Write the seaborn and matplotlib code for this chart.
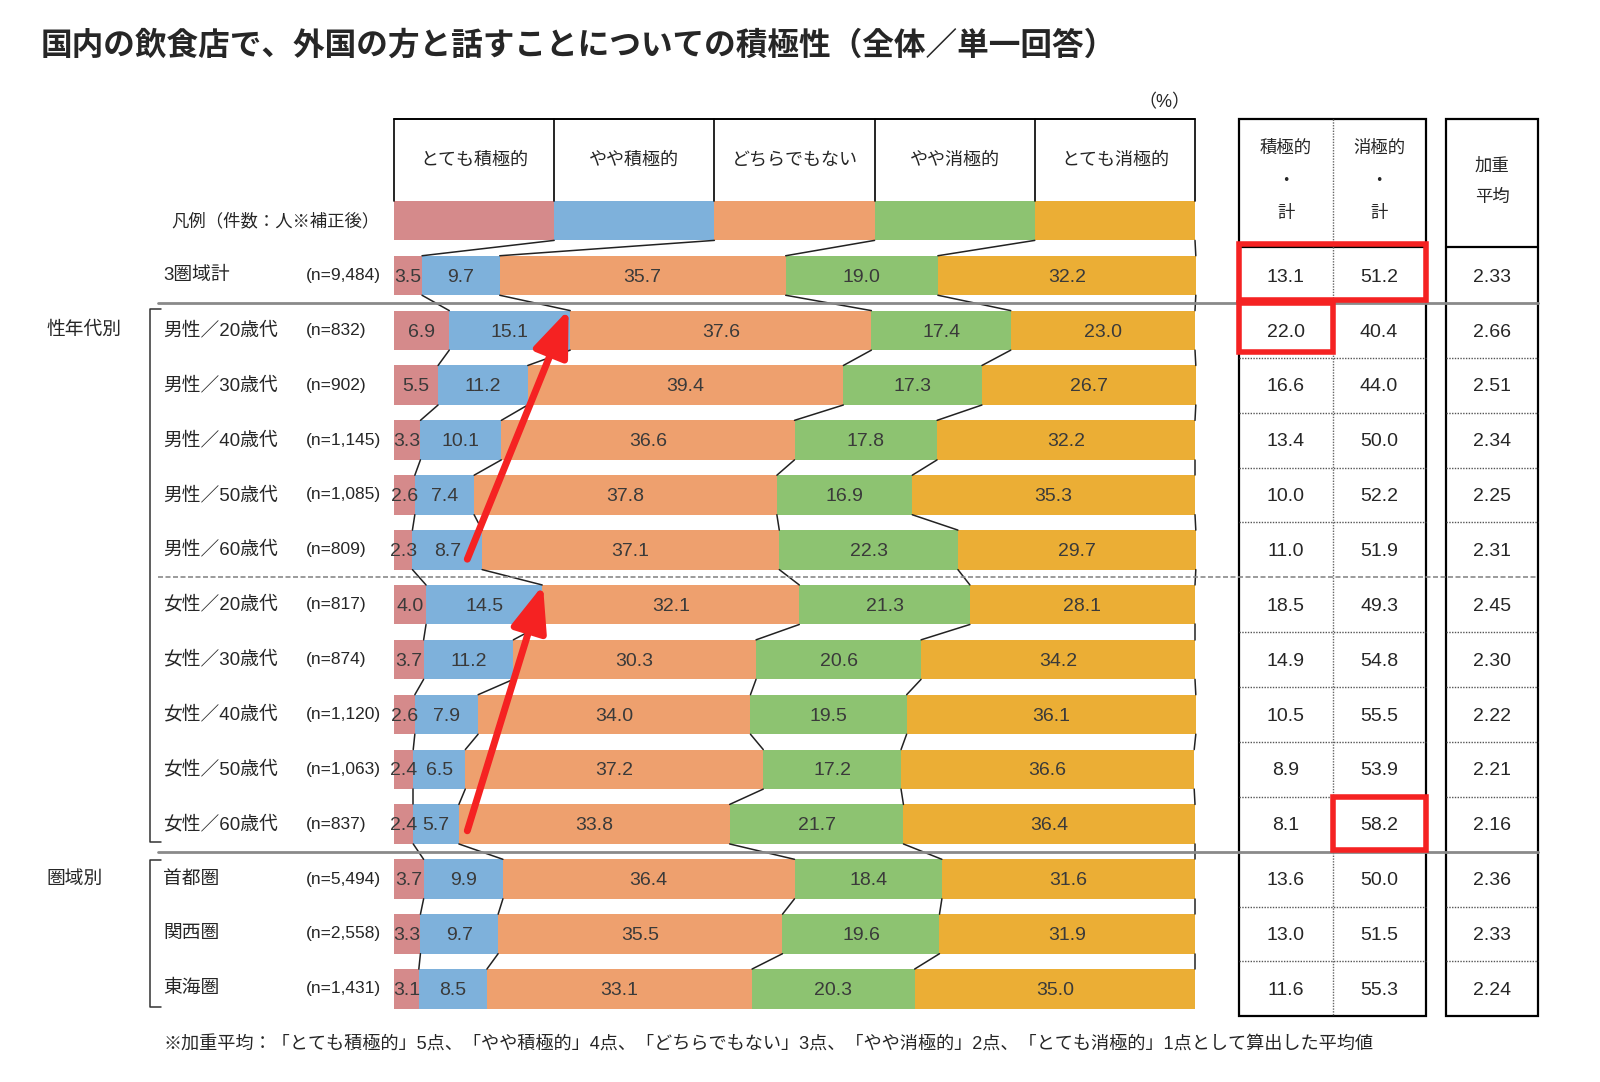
import matplotlib
matplotlib.use('Agg')
import matplotlib.pyplot as plt
import pandas as pd
import seaborn as sns
from matplotlib.patches import Rectangle

# ---- data ----
title = '国内の飲食店で、外国の方と話すことについての積極性（全体／単一回答）'
rows = ['3圏域計', '男性／20歳代', '男性／30歳代', '男性／40歳代', '男性／50歳代', '男性／60歳代',
        '女性／20歳代', '女性／30歳代', '女性／40歳代', '女性／50歳代', '女性／60歳代',
        '首都圏', '関西圏', '東海圏']
ns = ['(n=9,484)', '(n=832)', '(n=902)', '(n=1,145)', '(n=1,085)', '(n=809)',
      '(n=817)', '(n=874)', '(n=1,120)', '(n=1,063)', '(n=837)',
      '(n=5,494)', '(n=2,558)', '(n=1,431)']
cats = ['とても積極的', 'やや積極的', 'どちらでもない', 'やや消極的', 'とても消極的']
very_pos = [3.5, 6.9, 5.5, 3.3, 2.6, 2.3, 4.0, 3.7, 2.6, 2.4, 2.4, 3.7, 3.3, 3.1]
some_pos = [9.7, 15.1, 11.2, 10.1, 7.4, 8.7, 14.5, 11.2, 7.9, 6.5, 5.7, 9.9, 9.7, 8.5]
neutral = [35.7, 37.6, 39.4, 36.6, 37.8, 37.1, 32.1, 30.3, 34.0, 37.2, 33.8, 36.4, 35.5, 33.1]
some_neg = [19.0, 17.4, 17.3, 17.8, 16.9, 22.3, 21.3, 20.6, 19.5, 17.2, 21.7, 18.4, 19.6, 20.3]
very_neg = [32.2, 23.0, 26.7, 32.2, 35.3, 29.7, 28.1, 34.2, 36.1, 36.6, 36.4, 31.6, 31.9, 35.0]
pos_total = [13.1, 22.0, 16.6, 13.4, 10.0, 11.0, 18.5, 14.9, 10.5, 8.9, 8.1, 13.6, 13.0, 11.6]
neg_total = [51.2, 40.4, 44.0, 50.0, 52.2, 51.9, 49.3, 54.8, 55.5, 53.9, 58.2, 50.0, 51.5, 55.3]
weighted_avg = [2.33, 2.66, 2.51, 2.34, 2.25, 2.31, 2.45, 2.30, 2.22, 2.21, 2.16, 2.36, 2.33, 2.24]
legend_label = '凡例（件数：人※補正後）'
note = ('※加重平均：「とても積極的」5点、「やや積極的」4点、「どちらでもない」3点、'
        '「やや消極的」2点、「とても消極的」1点として算出した平均値')

colors = ['#D58A8B', '#7EB1DB', '#EEA06E', '#8DC371', '#EBAE35']

sns.set_theme(style='white')
plt.rcParams['font.family'] = ['Liberation Sans', 'Noto Sans CJK JP', 'DejaVu Sans']

# pixel -> data helpers (one axes covers the whole figure)
X0, XS = 394, 8.01      # 0% at x=394px, 8.01px per %
Y0, YS = 275.5, 54.87   # row 0 centre, row pitch


def px(v):
    return (v - X0) / XS


def py(v):
    return (v - Y0) / YS


fig = plt.figure(figsize=(16, 10.82), dpi=100)
ax = fig.add_axes([0, 0, 1, 1])

df = pd.DataFrame({'row': rows, cats[0]: very_pos, cats[1]: some_pos, cats[2]: neutral,
                   cats[3]: some_neg, cats[4]: very_neg})
cum = df[cats].cumsum(axis=1)
cum['row'] = rows

BH = 0.72
for k in reversed(range(5)):
    sns.barplot(data=cum, x=cats[k], y='row', orient='h', color=colors[k], saturation=1,
                width=BH, errorbar=None, ax=ax, linewidth=0)

# legend swatches
for k in range(5):
    ax.barh(-1, 20, left=20 * k, height=BH, color=colors[k], linewidth=0)

# value labels inside bars
for i in range(len(rows)):
    left = 0
    for k in range(5):
        v = df[cats[k]][i]
        ax.text(left + v / 2, i + 0.03, f'{v:.1f}', ha='center', va='center',
                fontsize=14, color='#3a3a3a')
        left += v

# connector lines between bars
top_b = [20, 40, 60, 80, 100]
for i in range(-1, len(rows) - 1):
    up = top_b if i < 0 else list(cum[cats].iloc[i])
    low = list(cum[cats].iloc[i + 1])
    for a, b in zip(up, low):
        ax.plot([a, b], [i + BH / 2, i + 1 - BH / 2], color='#222222', lw=1.1)

# header boxes
H_TOP, H_BOT = py(119.4), -1 - BH / 2
ax.plot([0, 100], [H_TOP, H_TOP], color='black', lw=1.4)
for k in range(6):
    ax.plot([20 * k, 20 * k], [H_TOP, H_BOT], color='black', lw=1.2)
for k in range(5):
    ax.text(20 * k + 10, (H_TOP + H_BOT) / 2, cats[k], ha='center', va='center', fontsize=13)
ax.text(px(380), -1, legend_label, ha='right', va='center', fontsize=12.5)
ax.text(px(1164), py(103), '（%）', ha='center', va='center', fontsize=13)

# row labels
for i in range(len(rows)):
    ax.text(px(163), i, rows[i], ha='left', va='center', fontsize=13.5)
    ax.text(px(306), i, ns[i], ha='left', va='center', fontsize=12.5)
ax.text(px(46), 1, '性年代別', ha='left', va='center', fontsize=13.5)
ax.text(px(46), 11, '圏域別', ha='left', va='center', fontsize=13.5)
for y1, y2 in [(309, 842), (860, 1007)]:
    ax.plot([px(161), px(150), px(150), px(161)], [py(y1), py(y1), py(y2), py(y2)],
            color='#333333', lw=1.1)

# tables
T_TOP, T_HEAD, T_BOT = H_TOP, py(247), len(rows) - 0.5
t1, tm, t1r = px(1239), px(1332.6), px(1425.6)
t2, t2r = px(1446), px(1538)
for a, b in [(t1, t1r), (t2, t2r)]:
    ax.add_patch(Rectangle((a, T_TOP), b - a, T_BOT - T_TOP, fill=False, ec='black', lw=1.6))
    ax.plot([a, b], [T_HEAD, T_HEAD], color='black', lw=1.6)
    for i in range(1, len(rows) - 1):
        if i in (5, 10):
            continue
        ax.plot([a, b], [i + 0.5, i + 0.5], color='#555555', lw=1, ls=(0, (1, 1)))
ax.plot([tm, tm], [T_TOP, T_BOT], color='#666666', lw=1, ls=(0, (1, 1)))

c1, c2, c3 = (t1 + tm) / 2, (tm + t1r) / 2, (t2 + t2r) / 2
for c, word in [(c1, '積極的'), (c2, '消極的')]:
    ax.text(c, py(148), word, ha='center', va='center', fontsize=12.5)
    ax.text(c, py(181.6), '・', ha='center', va='center', fontsize=12.5)
    ax.text(c, py(213.3), '計', ha='center', va='center', fontsize=12.5)
ax.text(c3, py(165.3), '加重', ha='center', va='center', fontsize=12.5)
ax.text(c3, py(197), '平均', ha='center', va='center', fontsize=12.5)
for i in range(len(rows)):
    ax.text(c1, i + 0.03, f'{pos_total[i]:.1f}', ha='center', va='center', fontsize=14)
    ax.text(c2, i + 0.03, f'{neg_total[i]:.1f}', ha='center', va='center', fontsize=14)
    ax.text(c3, i + 0.03, f'{weighted_avg[i]:.2f}', ha='center', va='center', fontsize=14)

# group separators
ax.plot([px(158), t2r], [0.5, 0.5], color='#8a8a8a', lw=2)
ax.plot([px(158), t2r], [5.5, 5.5], color='#8a8a8a', lw=1.2, ls=(0, (3, 1.5)))
ax.plot([px(158), t2r], [10.5, 10.5], color='#8a8a8a', lw=2)

# red highlights
red = '#F52222'
for (xa, xb, ya, yb) in [(t1, t1r, -0.58, 0.44), (t1, tm, 0.5, 1.39), (tm, t1r, 9.5, 10.47)]:
    ax.add_patch(Rectangle((xa, ya), xb - xa, yb - ya, fill=False, ec=red, lw=4, zorder=5))
for (xa, ya, xb, yb) in [(9.15, 5.17, 21.8, 0.62), (9.15, 10.12, 18.6, 5.64)]:
    ax.annotate('', xy=(xb, yb), xytext=(xa, ya),
                arrowprops=dict(arrowstyle='-|>,head_length=1.4,head_width=0.55', lw=5,
                                color=red, mutation_scale=20, shrinkA=0, shrinkB=0),
                zorder=6)

ax.text(px(41), py(46), title, ha='left', va='center', fontsize=22.8, fontweight='bold',
        family=['Noto Sans CJK JP', 'DejaVu Sans'])
ax.text(px(163), py(1045), note, ha='left', va='center', fontsize=13.1)

ax.set_xlim(px(0), px(1600))
ax.set_ylim(py(1082), py(0))
ax.axis('off')

fig.savefig('out.png', dpi=100, facecolor='white')
